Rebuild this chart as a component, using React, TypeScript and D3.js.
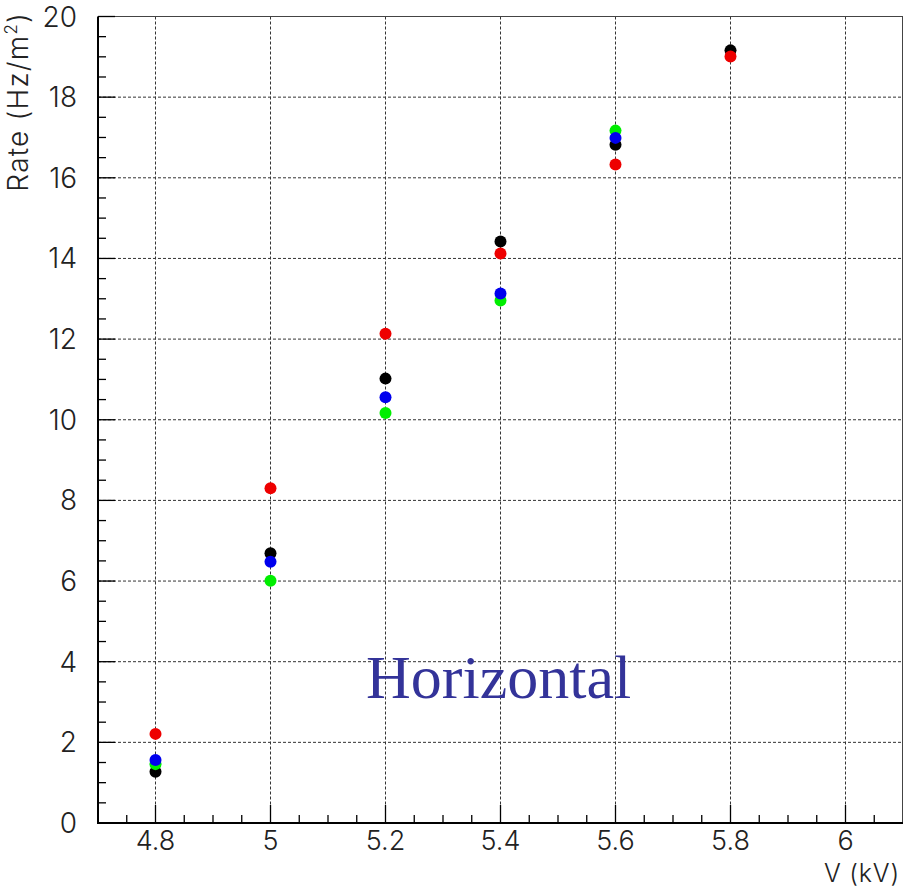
import React from "react";
import * as d3 from "d3";

const voltages = [4.8, 5.0, 5.2, 5.4, 5.6, 5.8];
const blackRate = [1.27, 6.69, 11.02, 14.42, 16.82, 19.16];
const greenRate = [1.46, 6.01, 10.17, 12.96, 17.17, null];
const blueRate = [1.56, 6.48, 10.56, 13.13, 16.99, null];
const redRate = [2.21, 8.3, 12.13, 14.12, 16.33, 19.01];

const xTicks = [4.8, 5.0, 5.2, 5.4, 5.6, 5.8, 6.0];
const xTickLabels = ["4.8", "5", "5.2", "5.4", "5.6", "5.8", "6"];
const yTicks = [0, 2, 4, 6, 8, 10, 12, 14, 16, 18, 20];

const series = [
  { name: "black", color: "#000000", values: blackRate },
  { name: "green", color: "#00ee00", values: greenRate },
  { name: "blue", color: "#0000ee", values: blueRate },
  { name: "red", color: "#ee0000", values: redRate },
];

const W = 904;
const H = 888;
const L = 98;
const R = 903;
const T = 16.5;
const B = 823;

export default function App() {
  const x = d3.scaleLinear().domain([4.7, 6.1]).range([L, R]);
  const y = d3.scaleLinear().domain([0, 20]).range([B, T]);
  const xMinor = d3.range(0, 29).map((i) => 4.7 + i * 0.05).filter((v) => v > 4.701 && v < 6.099);
  const yMinor = d3.range(0, 41).map((i) => i * 0.5);
  const font = "Inter, 'Liberation Sans', sans-serif";
  return (
    <div style={{ position: "fixed", left: 0, top: 0 }}>
      <svg width={W} height={H} style={{ display: "block", background: "#fff" }}>
        {/* grid */}
        {xTicks.map((t) => (
          <line key={"gx" + t} x1={x(t)} x2={x(t)} y1={T} y2={B} stroke="#333" strokeWidth={1} strokeDasharray="3,2" />
        ))}
        {yTicks.filter((t) => t > 0 && t < 20).map((t) => (
          <line key={"gy" + t} x1={L} x2={R} y1={y(t)} y2={y(t)} stroke="#333" strokeWidth={1} strokeDasharray="3,2" />
        ))}
        {/* frame */}
        <line x1={L} x2={R} y1={T} y2={T} stroke="#444" strokeWidth={1} />
        <line x1={R - 0.5} x2={R - 0.5} y1={T} y2={B} stroke="#444" strokeWidth={1} />
        <line x1={L} x2={L} y1={T} y2={B + 1} stroke="#000" strokeWidth={2} />
        <line x1={L - 1} x2={R} y1={B} y2={B} stroke="#000" strokeWidth={2} />
        {/* x ticks */}
        {xMinor.map((t, i) => {
          const major = xTicks.some((m) => Math.abs(m - t) < 1e-6);
          return <line key={"xt" + i} x1={x(t)} x2={x(t)} y1={B} y2={B - (major ? 18 : 8)} stroke="#000" strokeWidth={1.3} />;
        })}
        {yMinor.map((t, i) => {
          const major = Math.abs(t / 2 - Math.round(t / 2)) < 1e-6;
          return <line key={"yt" + i} x1={L} x2={L + (major ? 17 : 8)} y1={y(t)} y2={y(t)} stroke="#000" strokeWidth={1.3} />;
        })}
        {/* tick labels */}
        {xTicks.map((t, i) => (
          <text key={"xl" + t} x={x(t)} y={850} textAnchor="middle" fontFamily={font} fontWeight={300} fontSize={27} fill="#222">
            {xTickLabels[i]}
          </text>
        ))}
        {yTicks.map((t) => (
          <text key={"yl" + t} x={77} y={y(t) + 10} textAnchor="end" fontFamily={font} fontWeight={300} fontSize={28} fill="#222">
            {t}
          </text>
        ))}
        {/* axis titles */}
        <text x={900} y={882} textAnchor="end" fontFamily={font} fontWeight={300} fontSize={25} letterSpacing={0.8} fill="#222">
          V (kV)
        </text>
        <text transform="translate(28,12) rotate(-90)" textAnchor="end" fontFamily={font} fontWeight={300} fontSize={28} letterSpacing={1.2} fill="#222">
          Rate (Hz/m<tspan dy={-11} fontSize={17}>2</tspan><tspan dy={11}>)</tspan>
        </text>
        {/* points */}
        {series.map((s) =>
          s.values.map((v, i) =>
            v == null ? null : (
              <circle key={s.name + i} cx={x(voltages[i])} cy={y(v)} r={6} fill={s.color} />
            )
          )
        )}
        <text x={366} y={698} fontFamily="'Liberation Serif', 'Times New Roman', serif" fontSize={62} fill="#333399">
          Horizontal
        </text>
      </svg>
    </div>
  );
}
